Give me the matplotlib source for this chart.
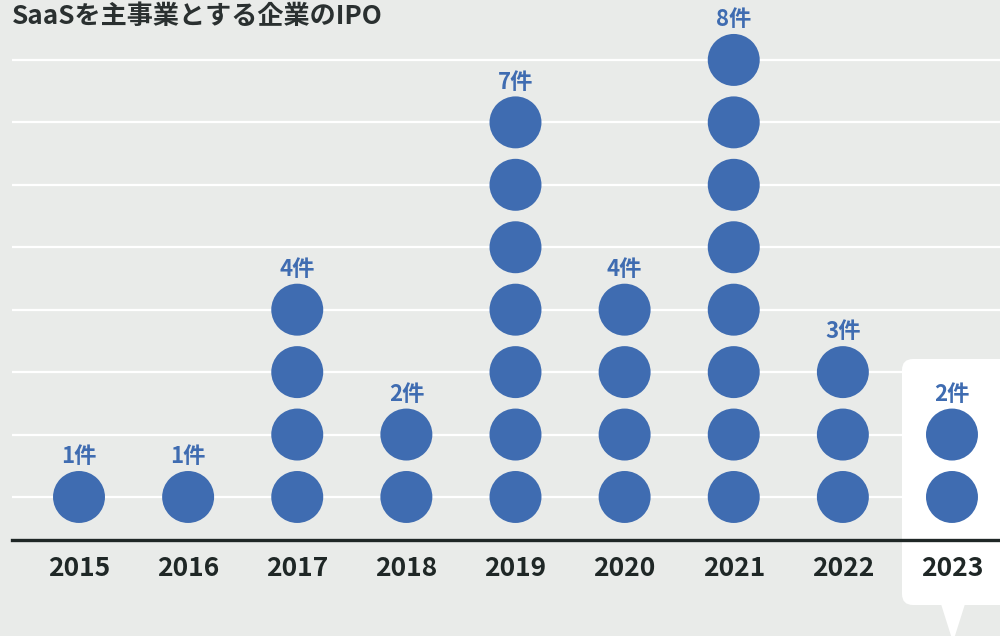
import matplotlib.pyplot as plt
from matplotlib.patches import FancyBboxPatch, Polygon
from matplotlib.transforms import IdentityTransform

years = ["2015", "2016", "2017", "2018", "2019", "2020", "2021", "2022", "2023"]
counts = [1, 1, 4, 2, 7, 4, 8, 3, 2]
title = "SaaSを主事業とする企業のIPO"

bg = "#e9ebe9"
blue = "#3f6cb1"
dark = "#1f2726"
fonts = ["Noto Sans CJK JP", "DejaVu Sans"]

fig = plt.figure(figsize=(10, 6.36), dpi=100, facecolor=bg)
ax = fig.add_axes([0.012, (636 - 540) / 636, 0.988, 540 / 636])
ax.set_facecolor(bg)
ax.set_xlim(-0.614, 8.44)
ax.set_ylim(0.311, 8.96)

for lvl in range(1, 9):
    ax.axhline(lvl, color="white", lw=1.6, zorder=1)

# highlight box for 2023 (pixel coords)
box = FancyBboxPatch((902, 31), 130, 246, boxstyle="round,pad=0,rounding_size=11",
                     transform=IdentityTransform(), facecolor="white", edgecolor="none",
                     zorder=1.2, clip_on=False)
ax.add_patch(box)
tri = Polygon([(941, 32), (965, 32), (953, -6)], closed=True, transform=IdentityTransform(),
              facecolor="white", edgecolor="none", zorder=1.2, clip_on=False)
ax.add_patch(tri)

ax.spines[["top", "right", "left"]].set_visible(False)
ax.spines["bottom"].set_color(dark)
ax.spines["bottom"].set_linewidth(2.4)
ax.spines["bottom"].set_zorder(5)

for i, n in enumerate(counts):
    ax.scatter([i] * n, list(range(1, n + 1)), s=1400, color=blue, edgecolors="none", zorder=4)
    ax.annotate(f"{n}件", (i, n), xytext=(0, 29), textcoords="offset points",
                ha="center", va="center", color=blue, fontsize=16, fontweight="bold",
                family=fonts, zorder=6)

ax.set_yticks([])
ax.set_xticks(range(len(years)))
ax.set_xticklabels(years, fontsize=19, fontweight="bold", color=dark, family=fonts)
ax.tick_params(axis="x", length=0, pad=11)

fig.text(0.012, 1 - 17 / 636, title, ha="left", va="center", fontsize=18.8,
         fontweight="bold", color="#2a3030", family=fonts)

fig.savefig("out.png", dpi=100, facecolor=bg)
